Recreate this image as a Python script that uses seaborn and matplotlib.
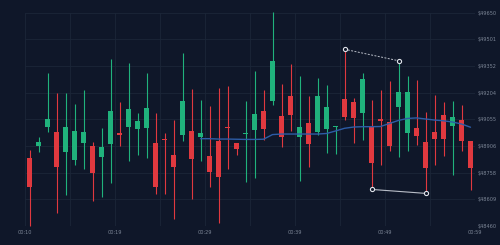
import numpy as np
import pandas as pd
import matplotlib
matplotlib.use("Agg")
import matplotlib.pyplot as plt
import seaborn as sns

# ---- data ----
opens = [48838, 48908, 49014, 48983, 48874, 48828, 48925, 48906, 48843, 48917,
         48977, 49011, 49001, 49005, 48925, 48945, 48854, 48966, 48988, 48955,
         48850, 48936, 49011, 48921, 48973, 48996, 49102, 49160, 49074, 49185,
         48958, 49036, 48986, 49000, 49011, 49167, 49153, 49089, 49012, 49057,
         49039, 49126, 48977, 49005, 48930, 48986, 49079, 49018, 49051, 48934]
highs = [48884, 48958, 49312, 49200, 49200, 49139, 49219, 48930, 49005, 49390,
         49153, 49371, 49089, 49312, 49089, 48980, 49051, 49423, 49226, 49163,
         49129, 49228, 49241, 48921, 49157, 49326, 49219, 49656, 49252, 49364,
         49297, 49185, 49284, 49247, 49018, 49446, 49174, 49312, 49163, 49220,
         49271, 49382, 49298, 49274, 49098, 49191, 49153, 49157, 49135, 48934]
lows = [48462, 48874, 48986, 48531, 48633, 48800, 48776, 48601, 48620, 48698,
        48906, 48824, 48856, 48838, 48641, 48638, 48499, 48934, 48609, 48824,
        48676, 48475, 48776, 48856, 48707, 48726, 48940, 49135, 48899, 48992,
        48713, 48791, 48968, 48866, 48860, 49051, 48921, 48940, 48664, 48800,
        48880, 48843, 48880, 48912, 48642, 48800, 48850, 48744, 48878, 48658]
closes = [48676, 48930, 49059, 48791, 49014, 48992, 48983, 48754, 48902, 49103,
          48969, 49111, 49046, 49117, 48676, 48938, 48787, 49156, 48835, 48977,
          48761, 48732, 49005, 48888, 48977, 49085, 49000, 49380, 48958, 49079,
          49011, 48916, 49185, 49122, 49018, 49068, 49061, 49278, 48810, 49047,
          48908, 49206, 49206, 48964, 48781, 48945, 48945, 49066, 48934, 48782]

# moving-average line, starting at candle index 19
ma_start = 19
ma_values = [48947, 48947, 48945, 48945, 48944, 48943, 48943, 48944, 48970, 48973,
             48973, 48973, 48973, 48973, 48976, 48990, 49005, 49012, 49014, 49014,
             49015, 49032, 49049, 49060, 49063, 49057, 49051, 49047, 49040, 49029,
             49011]

# annotation points: (candle index, price)
upper_marks_idx = [35, 41]
lower_marks_idx = [38, 44]

x_tick_labels = ["00:10", "00:19", "00:29", "00:39", "00:49", "00:59"]
y_tick_values = [49650, 49501.25, 49352.5, 49203.75, 49055, 48906.25, 48757.5, 48608.75, 48460]
y_tick_labels = ["$49650", "$49501", "$49352", "$49204", "$49055", "$48906", "$48758", "$48609", "$48460"]

# ---- style ----
BG = "#0f1729"
GRID = "#1b2638"
GREEN = "#20b27c"
RED = "#e0393f"
TXT = "#7d8797"

sns.set_theme(style="dark", rc={"axes.facecolor": BG, "figure.facecolor": BG})
plt.rcParams["font.family"] = ["DejaVu Sans"]

df = pd.DataFrame({"open": opens, "high": highs, "low": lows, "close": closes})
df["idx"] = np.arange(len(df))
df["up"] = df["close"] >= df["open"]
df["color"] = np.where(df["up"], GREEN, RED)

fig = plt.figure(figsize=(5.0, 2.45), dpi=100)
ax = fig.add_axes([0.05, 0.0776, 0.90, 0.8706])
ax.set_facecolor(BG)

# grid
for gx in np.arange(-0.5, 50, 5):
    ax.axvline(gx, color=GRID, lw=0.6, zorder=0)
for gy in y_tick_values:
    ax.axhline(gy, color=GRID, lw=0.6, zorder=0)

# wicks
ax.vlines(df["idx"], df["low"], df["high"], colors=df["color"], lw=0.8, zorder=2, clip_on=False)

# bodies
body_low = np.minimum(df["open"], df["close"])
body_h = np.maximum(np.abs(df["close"] - df["open"]), 7)
ax.bar(df["idx"], body_h, bottom=body_low, width=0.6, color=df["color"], linewidth=0, zorder=3)

# moving average
ma_df = pd.DataFrame({"idx": np.arange(ma_start, ma_start + len(ma_values)), "ma": ma_values})
sns.lineplot(data=ma_df, x="idx", y="ma", ax=ax, color="#2d5ca6", lw=1.0, zorder=4)

# annotation lines and markers
ux = upper_marks_idx
uy = [highs[i] for i in ux]
lx = lower_marks_idx
ly = [lows[i] for i in lx]
ax.plot(ux, uy, color="#b9bec8", lw=0.7, ls=(0, (2, 1.5)), zorder=5)
ax.plot(lx, ly, color="#b9bec8", lw=0.8, zorder=5)
sns.scatterplot(x=ux + lx, y=uy + ly, ax=ax, s=9, color=BG, edgecolor="#e0e3ea",
                linewidth=0.8, zorder=6, legend=False)

ax.set_xlim(-0.5, 49.5)
ax.set_ylim(48460, 49650)

xt = np.arange(-0.5, 50, 10)
ax.set_xticks(xt)
ax.set_xticklabels(x_tick_labels, fontsize=3.6, color=TXT)
ax.set_yticks(y_tick_values)
ax.set_yticklabels(y_tick_labels, fontsize=3.6, color=TXT)
ax.yaxis.tick_right()
ax.tick_params(axis="both", length=0, pad=2)
ax.tick_params(axis="x", pad=3)
ax.grid(False)
ax.set_xlabel("")
ax.set_ylabel("")
for s in ax.spines.values():
    s.set_visible(False)

fig.savefig("out.png", dpi=100, facecolor=BG)
